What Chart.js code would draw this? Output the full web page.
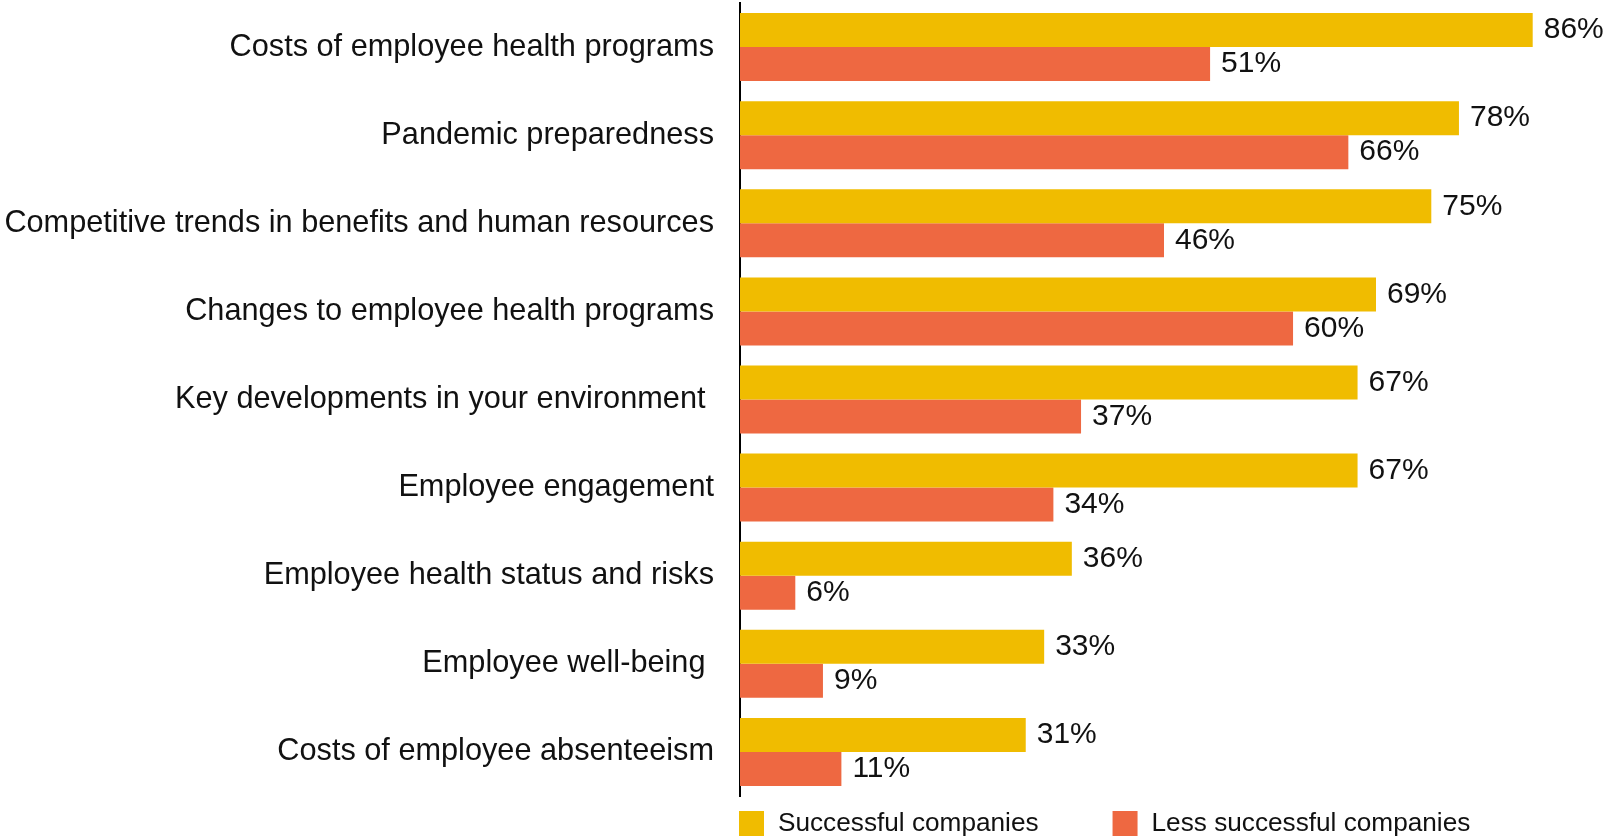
<!DOCTYPE html>
<html>
<head>
<meta charset="utf-8">
<script src="https://cdn.jsdelivr.net/npm/chart.js@4"></script>
<style>
  html, body { margin: 0; padding: 0; background: #fff; }
  #wrap { width: 1606px; height: 840px; position: relative; }
</style>
</head>
<body>
<div id="wrap"><canvas id="focusChart"></canvas></div>
<script>
// Survey topics (trailing spaces kept as in the source labels)
const categories = [
  "Costs of employee health programs",
  "Pandemic preparedness",
  "Competitive trends in benefits and human resources",
  "Changes to employee health programs",
  "Key developments in your environment ",
  "Employee engagement",
  "Employee health status and risks",
  "Employee well-being ",
  "Costs of employee absenteeism",
];
const successful = [86, 78, 75, 69, 67, 67, 36, 33, 31];
const lessSuccessful = [51, 66, 46, 60, 37, 34, 6, 9, 11];
const seriesNames = ["Successful companies", "Less successful companies"];

const YELLOW = "#F0BC00";
const ORANGE = "#EE6841";
const FONT = "'Liberation Sans', Arial, sans-serif";

// Percent labels at the end of every bar
const valueLabels = {
  id: "valueLabels",
  afterDatasetsDraw(chart) {
    const ctx = chart.ctx;
    ctx.save();
    ctx.font = "30px " + FONT;
    ctx.fillStyle = "#111";
    ctx.textAlign = "left";
    ctx.textBaseline = "middle";
    chart.data.datasets.forEach((ds, i) => {
      chart.getDatasetMeta(i).data.forEach((bar, j) => {
        ctx.fillText(ds.data[j] + "%", bar.x + 11, bar.y);
      });
    });
    ctx.restore();
  },
};

// Legend row under the plot, starting at the axis line
const bottomLegend = {
  id: "bottomLegend",
  afterDraw(chart) {
    const ctx = chart.ctx;
    const area = chart.chartArea;
    let x = area.left - 1;
    const y = area.bottom + 15;
    ctx.save();
    ctx.font = "26.2px " + FONT;
    ctx.textBaseline = "middle";
    ctx.textAlign = "left";
    chart.data.datasets.forEach((ds) => {
      ctx.fillStyle = ds.backgroundColor;
      ctx.fillRect(x, y, 25, 25);
      ctx.fillStyle = "#111";
      ctx.fillText(ds.label, x + 39, y + 13);
      x += 39 + ctx.measureText(ds.label).width + 74;
    });
    ctx.restore();
  },
};

const ctx = document.getElementById("focusChart").getContext("2d");
const focusChart = new Chart(ctx, {
  type: "bar",
  data: {
    labels: categories,
    datasets: [
      {
        label: seriesNames[0],
        data: successful,
        backgroundColor: YELLOW,
        barPercentage: 1,
        categoryPercentage: 0.772,
      },
      {
        label: seriesNames[1],
        data: lessSuccessful,
        backgroundColor: ORANGE,
        barPercentage: 1,
        categoryPercentage: 0.772,
      },
    ],
  },
  options: {
    indexAxis: "y",
    responsive: true,
    maintainAspectRatio: false,
    animation: false,
    layout: {
      padding: { top: 3, bottom: 44, left: 0, right: 18 },
    },
    scales: {
      x: {
        display: false,
        min: 0,
        max: 92,
      },
      y: {
        afterFit(scale) {
          // fixed label column; labels sit inside their category bands
          scale.width = 740;
          scale.paddingTop = 0;
          scale.paddingBottom = 0;
        },
        grid: { display: false, drawTicks: false },
        border: { display: true, color: "#000", width: 2 },
        ticks: {
          padding: 26,
          color: "#111",
          font: { family: FONT, size: 30.7 },
        },
      },
    },
    plugins: {
      legend: { display: false },
      tooltip: { enabled: false },
    },
  },
  plugins: [valueLabels, bottomLegend],
});
</script>
</body>
</html>
